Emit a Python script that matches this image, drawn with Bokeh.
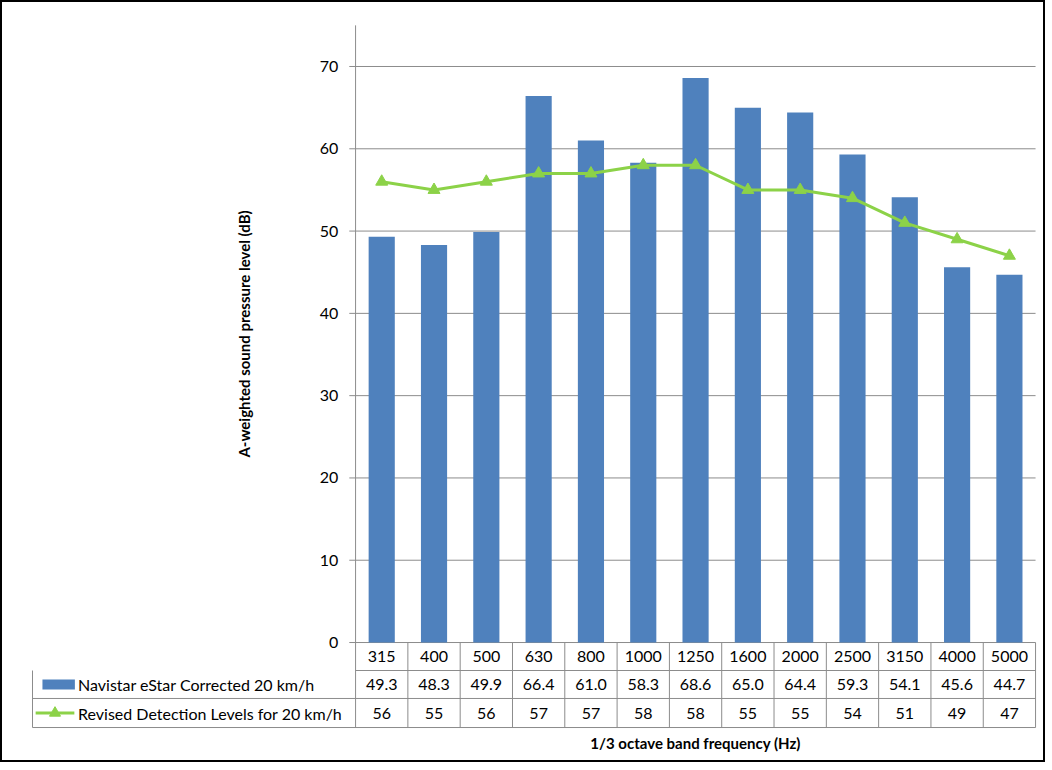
from bokeh.plotting import figure
from bokeh.models import Range1d
from bokeh.core.properties import value
from bokeh.embed import file_html
from bokeh.resources import INLINE

freqs = ["315","400","500","630","800","1000","1250","1600","2000","2500","3150","4000","5000"]
navistar = [49.3,48.3,49.9,66.4,61.0,58.3,68.6,65.0,64.4,59.3,54.1,45.6,44.7]
detection = [56,55,56,57,57,58,58,55,55,54,51,49,47]
nav_labels = ["49.3","48.3","49.9","66.4","61.0","58.3","68.6","65.0","64.4","59.3","54.1","45.6","44.7"]
y_ticks = [0,10,20,30,40,50,60,70]
series_names = ["Navistar eStar Corrected 20 km/h", "Revised Detection Levels for 20 km/h"]

FONT = value("Lato")
BLUE = "#4F81BD"
GREEN = "#8CD248"
GRID = "#8C8C8C"
TXT = "#000000"

n = len(freqs)
xs = [i + 0.5 for i in range(n)]
left_col = -6.176
rows = [0, -3.40, -6.80, -10.33]

p = figure(width=1045, height=762, output_backend="svg", toolbar_location=None,
           x_range=Range1d(-6.788, 13.19), y_range=Range1d(-14.58, 78.02),
           min_border=0)
p.axis.visible = False
p.grid.visible = False
p.outline_line_color = "black"
p.outline_line_width = 3
p.background_fill_color = "white"
p.border_fill_color = "white"

# gridlines + ticks
p.segment(x0=[-0.12]*len(y_ticks), x1=[n]*len(y_ticks), y0=y_ticks, y1=y_ticks, line_color=GRID, line_width=1)
p.text(x=[-0.33]*len(y_ticks), y=y_ticks, text=[str(t) for t in y_ticks], text_align="right",
       text_baseline="middle", text_font=FONT, text_font_size="16px", text_color=TXT)
p.segment(x0=[0], x1=[0], y0=[0], y1=[75], line_color=GRID, line_width=1)

# bars and line
p.vbar(x=xs, top=navistar, width=0.5, bottom=0, fill_color=BLUE, line_color=None)
p.line(x=xs, y=detection, line_color=GREEN, line_width=3)
p.scatter(x=xs, y=detection, marker="triangle", size=12, fill_color=GREEN, line_color=GREEN)

# table grid
p.segment(x0=[0, left_col, left_col], x1=[n, n, n], y0=rows[1:], y1=rows[1:], line_color=GRID, line_width=1)
p.segment(x0=list(range(n + 1)), x1=list(range(n + 1)), y0=[0]*(n + 1), y1=[rows[3]]*(n + 1), line_color=GRID, line_width=1)
p.segment(x0=[left_col], x1=[left_col], y0=[rows[1]], y1=[rows[3]], line_color=GRID, line_width=1)

def mid(a, b):
    return (a + b) / 2

for vals, r in ((freqs, 0), (nav_labels, 1), ([str(v) for v in detection], 2)):
    p.text(x=xs, y=[mid(rows[r], rows[r + 1])]*n, text=vals, text_align="center", text_baseline="middle",
           text_font=FONT, text_font_size="16px", text_color=TXT)

# legend keys in table
y1 = mid(rows[1], rows[2]); y2 = mid(rows[2], rows[3])
p.rect(x=[left_col + 0.5], y=[y1], width=0.62, height=1.2, fill_color=BLUE, line_color=None)
p.segment(x0=[left_col + 0.06], x1=[left_col + 0.8], y0=[y2], y1=[y2], line_color=GREEN, line_width=3)
p.scatter(x=[left_col + 0.43], y=[y2], marker="triangle", size=11, fill_color=GREEN, line_color=GREEN)
p.text(x=[left_col + 0.87]*2, y=[y1, y2], text=series_names, text_align="left", text_baseline="middle",
       text_font=FONT, text_font_size="16px", text_color=TXT)

# axis titles
p.text(x=[n / 2], y=[-12.15], text=["1/3 octave band frequency (Hz)"], text_align="center", text_baseline="middle",
       text_font=FONT, text_font_size="15px", text_font_style="bold", text_color=TXT)
p.text(x=[-2.14], y=[37.5], text=["A-weighted sound pressure level (dB)"], angle=1.5708, text_align="center",
       text_baseline="middle", text_font=FONT, text_font_size="15px", text_font_style="bold", text_color=TXT)

open("out.html", "w").write(file_html(p, INLINE))
